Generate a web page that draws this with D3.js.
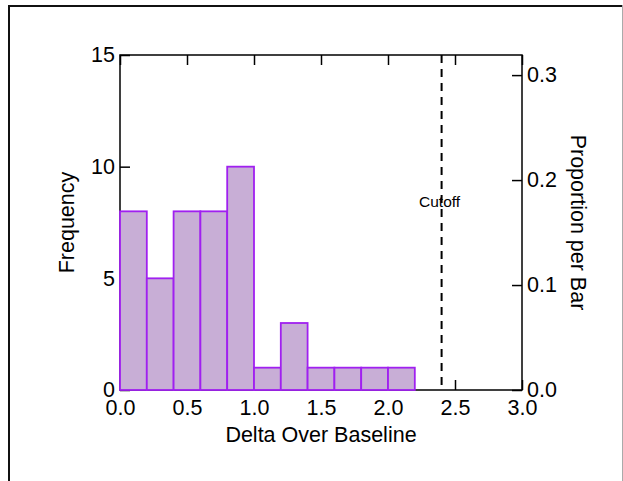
<!DOCTYPE html>
<html>
<head>
<meta charset="utf-8">
<script src="https://cdn.jsdelivr.net/npm/d3@7/dist/d3.min.js"></script>
<style>
  html, body { margin: 0; padding: 0; background: #fff; }
  svg { display: block; }
  text { font-family: "Liberation Sans", Arial, Helvetica, sans-serif; fill: #000; }
</style>
</head>
<body>
<svg id="chart" width="623" height="481"></svg>
<script>
// ---- data ----
const binStarts = [0.0, 0.2, 0.4, 0.6, 0.8, 1.0, 1.2, 1.4, 1.6, 1.8, 2.0, 2.2, 2.4, 2.6, 2.8];
const binWidth = 0.2;
const counts = [8, 5, 8, 8, 10, 1, 3, 1, 1, 1, 1, 0, 0, 0, 0];
const xTicks = [0.0, 0.5, 1.0, 1.5, 2.0, 2.5, 3.0];
const yTicks = [0, 5, 10, 15];
const propTicks = [0.0, 0.1, 0.2, 0.3];
const cutoffValue = 2.4;
const cutoffLabel = "Cutoff";
const xTitle = "Delta Over Baseline";
const yTitle = "Frequency";
const y2Title = "Proportion per Bar";

// ---- layout ----
const W = 623, H = 481;
const L = 120, R = 522, T = 55, B = 390;
const FS = 21.5;
const BAR_FILL = "#c8aed6", BAR_STROKE = "#a020f0";

const svg = d3.select("#chart");
const total = d3.sum(counts);

const x = d3.scaleLinear().domain([0, 3]).range([L, R]);
const y = d3.scaleLinear().domain([0, 15]).range([B, T]);
const y2 = d3.scaleLinear().domain([0, 15 / total]).range([B, T]);

// outer frame
svg.append("line").attr("x1", 8).attr("x2", 622).attr("y1", 6).attr("y2", 6)
  .attr("stroke", "#111").attr("stroke-width", 2);
svg.append("line").attr("x1", 9).attr("x2", 9).attr("y1", 5).attr("y2", H)
  .attr("stroke", "#111").attr("stroke-width", 2);
svg.append("line").attr("x1", 622.5).attr("x2", 622.5).attr("y1", 5).attr("y2", H)
  .attr("stroke", "#aaa").attr("stroke-width", 1);

// axes
const fmt1 = d3.format(".1f");
const gx = svg.append("g").attr("transform", `translate(0,${B})`)
  .call(d3.axisBottom(x).tickValues(xTicks).tickFormat(fmt1).tickSize(-10).tickPadding(10));
const gxt = svg.append("g").attr("transform", `translate(0,${T})`)
  .call(d3.axisTop(x).tickValues(xTicks).tickFormat("").tickSize(-10));
const gy = svg.append("g").attr("transform", `translate(${L},0)`)
  .call(d3.axisLeft(y).tickValues(yTicks).tickFormat(d3.format("d")).tickSize(-10).tickPadding(5));
const gy2 = svg.append("g").attr("transform", `translate(${R},0)`)
  .call(d3.axisRight(y2).tickValues(propTicks).tickFormat(fmt1).tickSize(-10).tickPadding(5));

[gx, gxt, gy, gy2].forEach(g => {
  g.select(".domain").remove();
  g.selectAll(".tick line").attr("stroke", "#000").attr("stroke-width", 1.5);
  g.selectAll(".tick text").attr("font-size", FS).attr("font-family", null).attr("fill", "#000");
});

// plot frame
svg.append("rect").attr("x", L).attr("y", T).attr("width", R - L).attr("height", B - T)
  .attr("fill", "none").attr("stroke", "#000").attr("stroke-width", 1.5);

// bars
svg.append("g").selectAll("rect").data(binStarts).join("rect")
  .attr("x", (d) => x(d))
  .attr("width", (d) => x(d + binWidth) - x(d))
  .attr("y", (d, i) => y(counts[i]))
  .attr("height", (d, i) => y(0) - y(counts[i]))
  .attr("fill", BAR_FILL)
  .attr("stroke", BAR_STROKE)
  .attr("stroke-width", 1.8);

// cutoff line
svg.append("line")
  .attr("x1", x(cutoffValue)).attr("x2", x(cutoffValue))
  .attr("y1", y(15)).attr("y2", y(0))
  .attr("stroke", "#000").attr("stroke-width", 2).attr("stroke-dasharray", "8,6");
svg.append("text").attr("x", x(cutoffValue) - 2).attr("y", 207)
  .attr("text-anchor", "middle").attr("font-size", 15.5).text(cutoffLabel);

// titles
svg.append("text").attr("x", (L + R) / 2).attr("y", 442).attr("text-anchor", "middle")
  .attr("font-size", FS).text(xTitle);
svg.append("text").attr("transform", `translate(74,${(T + B) / 2}) rotate(-90)`)
  .attr("text-anchor", "middle").attr("font-size", FS).text(yTitle);
svg.append("text").attr("transform", `translate(571,${(T + B) / 2}) rotate(90)`)
  .attr("text-anchor", "middle").attr("font-size", FS).text(y2Title);
</script>
</body>
</html>
